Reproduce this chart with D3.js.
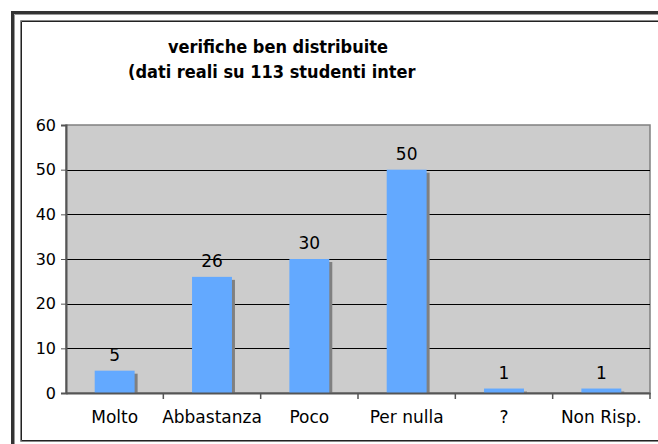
<!DOCTYPE html>
<html>
<head>
<meta charset="utf-8">
<script src="https://cdn.jsdelivr.net/npm/d3@7"></script>
<style>
  body { margin: 0; background: #fff; }
  text { font-family: "DejaVu Sans", Verdana, sans-serif; fill: #000; }
</style>
</head>
<body>
<div id="chart"></div>
<script>
// chart data
var categories = ["Molto", "Abbastanza", "Poco", "Per nulla", "?", "Non Risp."];
var values = [5, 26, 30, 50, 1, 1];
var yTicks = [0, 10, 20, 30, 40, 50, 60];
var titleLines = ["verifiche ben distribuite", "(dati reali su 113 studenti interni)"];

var width = 658,
    height = 444;

var margin = {left: 66, right: 8, top: 125, bottom: 51};

var svg = d3.select("#chart")
    .append("svg")
    .attr("width", width)
    .attr("height", height);

/* FRAMES */
svg.append("path")
    .attr("d", "M12.5,444V12.5H658")
    .attr("fill", "none")
    .attr("stroke", "#333")
    .attr("stroke-width", 3);
svg.append("path")
    .attr("d", "M14.5,444V14.5H658")
    .attr("fill", "none")
    .attr("stroke", "#999")
    .attr("stroke-width", 1);
svg.append("path")
    .attr("d", "M658,20.5H20.5V441.5H658")
    .attr("fill", "none")
    .attr("stroke", "#888")
    .attr("stroke-width", 1);
svg.append("path")
    .attr("d", "M658,21.5H21.5V440.5H658")
    .attr("fill", "none")
    .attr("stroke", "#222")
    .attr("stroke-width", 1);

/* SCALES */
var x = d3.scaleBand()
    .domain(categories)
    .range([margin.left, width - margin.right])
    .paddingInner(0)
    .paddingOuter(0);

var y = d3.scaleLinear()
    .domain([0, 60])
    .range([height - margin.bottom, margin.top]);

var barW = x.bandwidth() * 0.41;

/* PLOT AREA */
svg.append("rect")
    .attr("x", x.range()[0])
    .attr("y", y(60))
    .attr("width", x.range()[1] - x.range()[0])
    .attr("height", y(0) - y(60))
    .attr("fill", "#cccccc")
    .attr("stroke", "#808080")
    .attr("stroke-width", 1.5);

// gridlines
svg.append("g")
    .selectAll("line")
    .data(yTicks.filter(d => d > 0 && d < 60))
    .enter()
    .append("line")
        .attr("x1", x.range()[0])
        .attr("x2", x.range()[1])
        .attr("y1", d => Math.round(y(d)) + 0.5)
        .attr("y2", d => Math.round(y(d)) + 0.5)
        .attr("stroke", "#000")
        .attr("stroke-width", 1);

/* BARS */
svg.append("clipPath").attr("id", "plotclip")
    .append("rect")
    .attr("x", x.range()[0])
    .attr("y", y(60))
    .attr("width", x.range()[1] - x.range()[0])
    .attr("height", y(0) - y(60));

var bars = svg.append("g").attr("clip-path", "url(#plotclip)");

// shadows
bars.selectAll(".shadow")
    .data(values)
    .enter()
    .append("rect")
        .attr("class", "shadow")
        .attr("x", (d, i) => x(categories[i]) + (x.bandwidth() - barW) / 2 + 3)
        .attr("y", d => y(d) + 3)
        .attr("width", barW)
        .attr("height", d => y(0) - y(d))
        .attr("fill", "#808080");

bars.selectAll(".bar")
    .data(values)
    .enter()
    .append("rect")
        .attr("class", "bar")
        .attr("x", (d, i) => x(categories[i]) + (x.bandwidth() - barW) / 2)
        .attr("y", d => y(d))
        .attr("width", barW)
        .attr("height", d => y(0) - y(d))
        .attr("fill", "#63a9ff");

// value labels
svg.append("g")
    .selectAll("text")
    .data(values)
    .enter()
    .append("text")
        .attr("x", (d, i) => x(categories[i]) + x.bandwidth() / 2)
        .attr("y", d => y(d) - 10)
        .attr("text-anchor", "middle")
        .style("font-size", "17px")
        .text(d => d);

/* AXES */
var yAxis = d3.axisLeft(y)
    .tickValues(yTicks)
    .tickSize(5)
    .tickPadding(5);

var gy = svg.append("g")
    .attr("transform", "translate(" + x.range()[0] + ",0)")
    .call(yAxis);
gy.select(".domain").attr("stroke", "#555").attr("stroke-width", 2);
gy.selectAll(".tick line").attr("stroke", "#555");
gy.selectAll(".tick text")
    .attr("fill", "#000")
    .style("font-family", "'DejaVu Sans', Verdana, sans-serif")
    .style("font-size", "16px");

var gx = svg.append("g")
    .attr("transform", "translate(0," + y(0) + ")")
    .call(d3.axisBottom(x).tickSize(0).tickPadding(18));
gx.select(".domain").attr("stroke", "#555").attr("stroke-width", 2);
gx.selectAll(".tick text")
    .attr("fill", "#000")
    .style("font-family", "'DejaVu Sans', Verdana, sans-serif")
    .style("font-size", "17px");

// tick marks between categories
gx.append("g")
    .selectAll("line")
    .data(categories.slice(1).concat(["end"]))
    .enter()
    .append("line")
        .attr("x1", (d, i) => x.range()[0] + (i + 1) * x.bandwidth())
        .attr("x2", (d, i) => x.range()[0] + (i + 1) * x.bandwidth())
        .attr("y1", 0)
        .attr("y2", 6)
        .attr("stroke", "#555")
        .attr("stroke-width", 1.5);

/* TITLE */
svg.append("clipPath").attr("id", "titleclip")
    .append("rect")
    .attr("x", 100)
    .attr("y", 25)
    .attr("width", 316)
    .attr("height", 70);

var title = svg.append("g").attr("clip-path", "url(#titleclip)");
title.append("text")
    .attr("x", 278)
    .attr("y", 53)
    .attr("text-anchor", "middle")
    .style("font-family", "'DejaVu Sans Condensed', 'DejaVu Sans', sans-serif")
    .style("font-size", "18px")
    .style("font-weight", "bold")
    .text(titleLines[0]);
title.append("text")
    .attr("x", 128)
    .attr("y", 78)
    .attr("text-anchor", "start")
    .style("font-family", "'DejaVu Sans Condensed', 'DejaVu Sans', sans-serif")
    .style("font-size", "18px")
    .style("font-weight", "bold")
    .text(titleLines[1]);
</script>
</body>
</html>
